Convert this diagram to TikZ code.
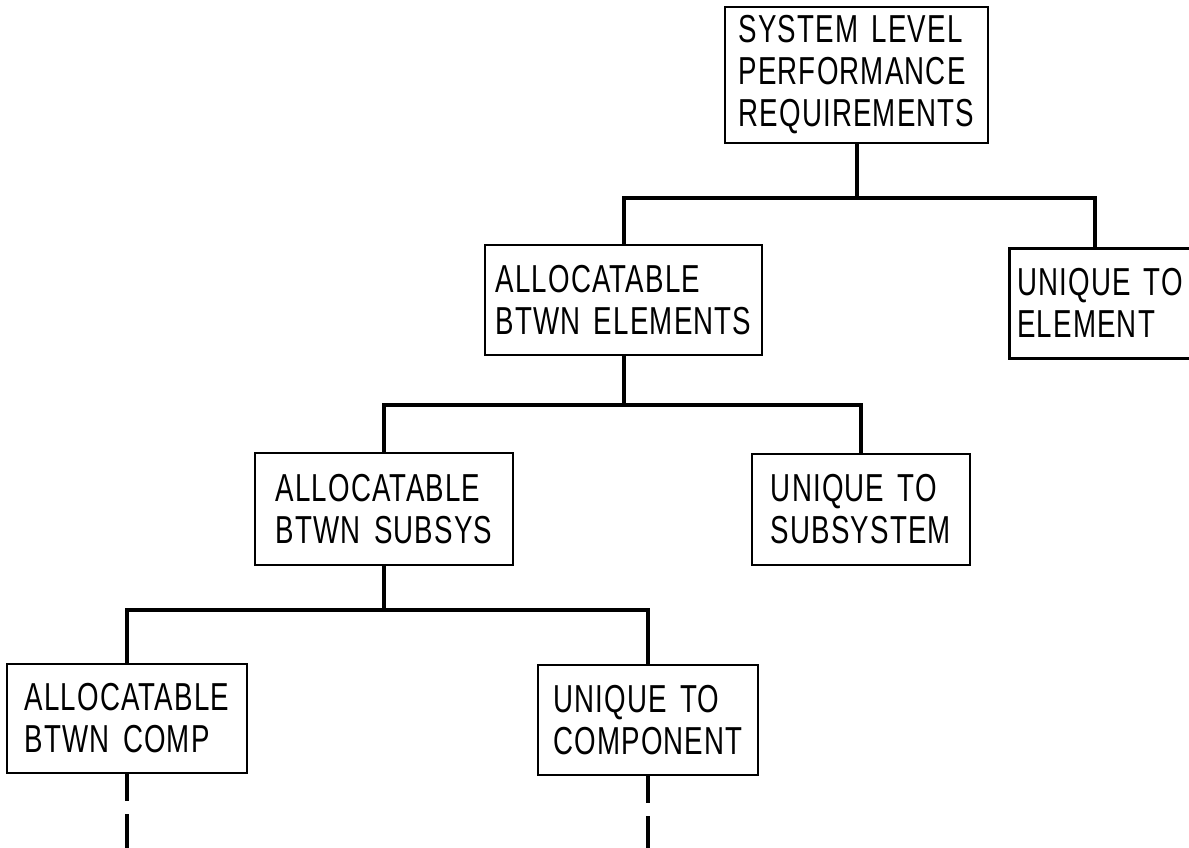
\documentclass[tikz,border=0pt]{standalone}
\usepackage{fontspec}
\newfontfamily\lettering[FakeStretch=0.71,LetterSpace=3,WordSpace=1.5]{Liberation Sans}
\begin{document}
\begin{tikzpicture}[x=1pt,y=-1pt,
  box/.style={draw, line width=2.5pt, align=left, inner sep=0pt,
    font=\lettering\fontsize{39}{42}\selectfont},
  link/.style={line width=4pt, line join=miter},
  trail/.style={link, dash pattern=on 27pt off 13pt on 80pt}]
\fill[white] (0,0) rectangle (1189,847);
\clip (0,0) rectangle (1189,847);

% requirement tree
\node[box, minimum width=263pt, minimum height=136pt] (sys) at (856.5,75)
  {SYSTEM LEVEL\\PERFORMANCE\\REQUIREMENTS};
\node[box, minimum width=277pt, minimum height=110pt] (ael) at (623.5,300)
  {ALLOCATABLE\\BTWN ELEMENTS};
\node[box, anchor=north west, inner xsep=8pt, text width=186pt, minimum height=110pt] (uel) at (1008,247)
  {UNIQUE TO\\ELEMENT};
\node[box, minimum width=258pt, minimum height=112pt] (asub) at (384,509)
  {ALLOCATABLE\\BTWN SUBSYS};
\node[box, minimum width=218pt, minimum height=111pt] (usub) at (861,509.5)
  {UNIQUE TO\\SUBSYSTEM};
\node[box, minimum width=240pt, minimum height=109pt] (acomp) at (127,718.5)
  {ALLOCATABLE\\BTWN COMP};
\node[box, minimum width=220pt, minimum height=110pt] (ucomp) at (648,720)
  {UNIQUE TO\\COMPONENT};

% junctions and connector ends
\coordinate (j1) at (856.5,198);
\coordinate (uelin) at (1095,247);
\coordinate (j2) at (623.5,405);
\coordinate (j3) at (384,610);
\coordinate (acompout) at (127,860);
\coordinate (ucompout) at (648,860);

\draw[link] (sys.south) -- (j1);
\draw[link] (j1) -| (ael.north);
\draw[link] (j1) -| (uelin);
\draw[link] (ael.south) -- (j2);
\draw[link] (j2) -| (asub.north);
\draw[link] (j2) -| (usub.north);
\draw[link] (asub.south) -- (j3);
\draw[link] (j3) -| (acomp.north);
\draw[link] (j3) -| (ucomp.north);
\draw[trail] (acomp.south) -- (acompout);
\draw[trail] (ucomp.south) -- (ucompout);
\end{tikzpicture}
\end{document}
